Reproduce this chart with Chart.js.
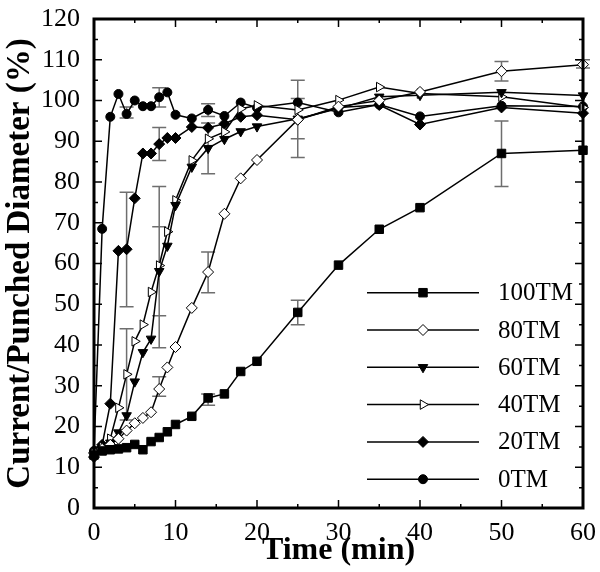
<!DOCTYPE html>
<html>
<head>
<meta charset="utf-8">
<script src="https://cdn.jsdelivr.net/npm/chart.js@4.4.1/dist/chart.umd.min.js"></script>
<style>
  html, body { margin: 0; padding: 0; background: #fff; }
</style>
</head>
<body>
<canvas id="chart" width="600" height="572"></canvas>
<script>
// time axis (min)
var times = [0, 1, 2, 3, 4, 5, 6, 7, 8, 9, 10, 12, 14, 16, 18, 20, 25, 30, 35, 40, 50, 60];

// current/punched diameter (%)
var tm100 = [13, 14, 14.3, 14.5, 14.8, 15.6, 14.3, 16.3, 17.3, 18.7, 20.5, 22.5, 27, 28, 33.5, 36, 48, 59.6, 68.4, 73.7, 87, 87.8];
var tm80 = [13.5, 14.5, 15.5, 17, 19, 20.8, 22.1, 23.5, 29.2, 34.5, 39.5, 49.1, 57.9, 72.2, 80.9, 85.4, 95.3, 98.5, 100, 102.1, 107.2, 108.8];
var tm60 = [13, 14.5, 16, 18.5, 22.7, 31, 38.2, 41.5, 58.1, 64.3, 74.3, 83.7, 88.3, 90.5, 92.4, 93.6, 95.5, 98, 100.9, 101.3, 102, 101.2];
var tm40 = [13.5, 15, 17, 24.6, 32.8, 40.9, 45, 53, 59.5, 67.8, 75.5, 85.3, 90.6, 92.3, 98, 98.8, 97.7, 100.1, 103.3, 101.7, 100.9, 98.3];
var tm20 = [12.5, 15.5, 25.6, 63.1, 63.5, 76, 87, 87, 89.3, 90.8, 90.8, 93.5, 93.3, 94.3, 96, 96.4, 95.3, 98.3, 98.9, 94.1, 98.3, 96.9];
var tm0 = [14, 68.5, 96, 101.6, 96.7, 100, 98.6, 98.6, 100.8, 102, 96.5, 95.6, 97.7, 96.2, 99.5, 98.2, 99.5, 97.1, 99, 96.1, 98.7, 98.5];

// error bars
var errTime = [4, 8, 14, 4, 8, 4, 8, 8, 14, 8, 14, 14, 25, 25, 25, 50, 50, 60];
var errLow = [95.7, 98.4, 96.1, 49.4, 85.3, 21.6, 47.2, 39.3, 82, 27.4, 52.8, 25.2, 45, 86, 90.6, 104.8, 78.9, 108];
var errHigh = [98.4, 103.1, 99.2, 77.5, 93.4, 44, 69, 78.9, 94.5, 32.2, 62.8, 28, 51, 105, 100.5, 109.6, 95, 110];

var names = ["100TM", "80TM", "60TM", "40TM", "20TM", "0TM"];
var values = [tm100, tm80, tm60, tm40, tm20, tm0];

var markers = [
  { style: "rect", rot: 0, r: 6, fill: "#000" },
  { style: "rectRot", rot: 0, r: 5.5, fill: "#fff" },
  { style: "triangle", rot: 180, r: 5.5, fill: "#000" },
  { style: "triangle", rot: 90, r: 5.5, fill: "#fff" },
  { style: "rectRot", rot: 0, r: 5.5, fill: "#000" },
  { style: "circle", rot: 0, r: 4.5, fill: "#000" },
];

var serif = "'Liberation Serif', 'Times New Roman', serif";

function points(arr) {
  var out = [];
  for (var i = 0; i < times.length; i++) {
    out.push({ x: times[i], y: arr[i] });
  }
  return out;
}

var datasets = [];
for (var i = 0; i < names.length; i++) {
  var m = markers[i];
  datasets.push({
    label: names[i],
    data: points(values[i]),
    showLine: true,
    borderColor: "#000",
    borderWidth: 1.5,
    pointStyle: m.style,
    pointRotation: m.rot,
    pointRadius: m.r,
    pointHoverRadius: m.r,
    pointBackgroundColor: m.fill,
    pointBorderColor: "#000",
    pointBorderWidth: 1,
    clip: false,
  });
}

var frame = {
  id: "frame",
  beforeDatasetsDraw: function (chart) {
    var ctx = chart.ctx;
    var xs = chart.scales.x, ys = chart.scales.y;
    ctx.save();
    // error bars
    ctx.strokeStyle = "#6e6e6e";
    ctx.lineWidth = 1.5;
    ctx.beginPath();
    for (var k = 0; k < errTime.length; k++) {
      var ex = xs.getPixelForValue(errTime[k]);
      var y1 = ys.getPixelForValue(errLow[k]), y2 = ys.getPixelForValue(errHigh[k]);
      ctx.moveTo(ex, y1); ctx.lineTo(ex, y2);
      ctx.moveTo(ex - 7, y1); ctx.lineTo(ex + 7, y1);
      ctx.moveTo(ex - 7, y2); ctx.lineTo(ex + 7, y2);
    }
    ctx.stroke();
    ctx.restore();
  },
  afterDraw: function (chart) {
    var ctx = chart.ctx, a = chart.chartArea;
    var xs = chart.scales.x, ys = chart.scales.y;
    ctx.save();
    // inward ticks on all four sides
    ctx.strokeStyle = "#000000";
    ctx.lineWidth = 1.5;
    ctx.beginPath();
    for (var v = 0; v <= 60; v += 5) {
      var px = xs.getPixelForValue(v), len = v % 10 === 0 ? 8 : 4;
      ctx.moveTo(px, a.bottom); ctx.lineTo(px, a.bottom - len);
      ctx.moveTo(px, a.top); ctx.lineTo(px, a.top + len);
    }
    for (var w = 0; w <= 120; w += 5) {
      var py = ys.getPixelForValue(w), len2 = w % 10 === 0 ? 8 : 4;
      ctx.moveTo(a.left, py); ctx.lineTo(a.left + len2, py);
      ctx.moveTo(a.right, py); ctx.lineTo(a.right - len2, py);
    }
    ctx.stroke();
    ctx.lineWidth = 3;
    ctx.beginPath();
    ctx.moveTo(a.left, a.top);
    ctx.lineTo(a.right, a.top);
    ctx.lineTo(a.right, a.bottom);
    ctx.lineTo(a.left, a.bottom);
    ctx.closePath();
    ctx.stroke();

    // legend
    for (var i = 0; i < names.length; i++) {
      var y = 292.7 + 37.3 * i, m = markers[i];
      ctx.strokeStyle = "#000";
      ctx.lineWidth = 1.5;
      ctx.beginPath();
      ctx.moveTo(367, y); ctx.lineTo(479, y);
      ctx.stroke();
      ctx.fillStyle = m.fill;
      ctx.lineWidth = 1;
      Chart.helpers.drawPoint(ctx, { pointStyle: m.style, rotation: m.rot, radius: m.r, borderWidth: 1 }, 423, y);
      ctx.fillStyle = "#000";
      ctx.font = "25px " + serif;
      ctx.textBaseline = "middle";
      ctx.textAlign = "left";
      ctx.fillText(names[i], 498, y + 1);
    }
    ctx.restore();
  },
};

new Chart(document.getElementById("chart"), {
  type: "scatter",
  data: { datasets: datasets },
  plugins: [frame],
  options: {
    responsive: false,
    animation: false,
    devicePixelRatio: 1,
    layout: { padding: { top: 13, right: 16, left: 0, bottom: 0 } },
    plugins: { legend: { display: false }, tooltip: { enabled: false } },
    elements: { line: { tension: 0 } },
    scales: {
      x: {
        type: "linear",
        min: 0,
        max: 60,
        grid: { display: false },
        border: { display: false },
        ticks: { stepSize: 10, padding: 4, color: "#000", font: { family: serif, size: 26, lineHeight: 1 } },
        title: { display: true, text: "Time (min)", color: "#000", padding: { top: 0, bottom: 5 }, font: { family: serif, size: 32, weight: "bold", lineHeight: 1 } },
        afterFit: function (s) { s.height = 64; },
      },
      y: {
        type: "linear",
        min: 0,
        max: 120,
        grid: { display: false },
        border: { display: false },
        ticks: { stepSize: 10, padding: 6, color: "#000", font: { family: serif, size: 26, lineHeight: 1 } },
        title: { display: true, text: "Current/Punched Diameter (%)", color: "#000", padding: { top: 4, bottom: 0 }, font: { family: serif, size: 33, weight: "bold", lineHeight: 1 } },
        afterFit: function (s) { s.width = 94; },
      },
    },
  },
});
</script>
</body>
</html>
